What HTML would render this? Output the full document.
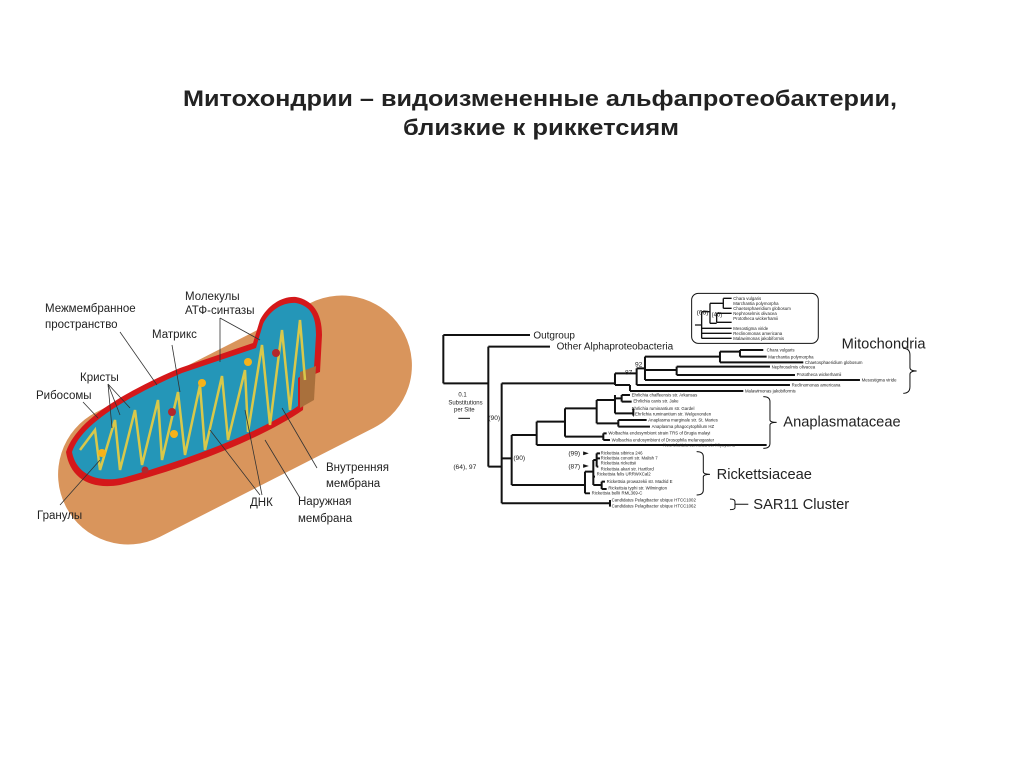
<!DOCTYPE html>
<html><head><meta charset="utf-8"><style>
html,body{margin:0;padding:0;background:#fff;width:1024px;height:767px;overflow:hidden}
svg{display:block;font-family:"Liberation Sans",Arial,sans-serif}
</style></head><body>
<svg width="1024" height="767" viewBox="0 0 1024 767">
<text x="183" y="106" font-size="22" font-weight="bold" fill="#222" textLength="714" lengthAdjust="spacingAndGlyphs">Митохондрии –  видоизмененные альфапротеобактерии,</text>
<text x="403" y="135" font-size="22" font-weight="bold" fill="#222" textLength="276" lengthAdjust="spacingAndGlyphs">близкие к риккетсиям</text>

<!-- mitochondrion -->
<g transform="rotate(-27 235 420)">
<rect x="45" y="350" width="380" height="140" rx="70" fill="#d9955c"/>
</g>
<path d="M66,452 C75,425 110,398 180,368 L253,343 L260,320 C268,305 282,296 296,297 C312,300 322,312 322,335 L320,372 L305,378 L303,410 C260,440 180,470 120,485 C90,490 70,478 66,452 Z" fill="#d4181a"/>
<path d="M72,452 C80,428 115,402 182,373 L256,348 L263,324 C270,310 283,302 296,303 C310,306 316,315 316,335 L314,368 L298,378 L298,406 C258,434 180,462 122,478 C95,483 76,473 72,452 Z" fill="#2496b8"/>
<path d="M300,372 L316,366 L314,400 L300,408 Z" fill="#a9703c"/>
<g fill="none" stroke="#d8c84a" stroke-width="2.5">
<path d="M80,450 L95,430 L100,470 L115,420 L120,470 L135,410 L142,465 L158,400 L162,460 L178,392 L185,455 L200,385 L205,450 L222,376 L228,440 L245,370 L248,432 L262,345 L270,425 L282,330 L290,410 L300,320 L305,380"/>
</g>
<g fill="#f5b21a"><circle cx="178" cy="491" r="0"/><circle cx="102" cy="453" r="4"/><circle cx="174" cy="434" r="4"/><circle cx="202" cy="383" r="4"/><circle cx="248" cy="362" r="4"/><circle cx="143" cy="393" r="0"/></g>
<g fill="#b3282c"><circle cx="172" cy="412" r="4"/><circle cx="276" cy="353" r="4"/><circle cx="145" cy="470" r="3.5"/></g>

<g font-size="11.5" fill="#222">
<text x="185" y="300">Молекулы</text><text x="185" y="314">АТФ-синтазы</text>
<text x="45" y="312">Межмембранное</text><text x="45" y="328">пространство</text>
<text x="152" y="338">Матрикс</text>
<text x="80" y="381">Кристы</text>
<text x="36" y="399">Рибосомы</text>
<text x="37" y="519">Гранулы</text>
<text x="250" y="506">ДНК</text>
<text x="326" y="471">Внутренняя</text><text x="326" y="487">мембрана</text>
<text x="298" y="505">Наружная</text><text x="298" y="522">мембрана</text>
</g>
<g stroke="#333" stroke-width="0.8" fill="none">
<path d="M120,332 L157,385"/><path d="M172,345 L180,392"/>
<path d="M108,384 L112,428 M108,384 L120,415 M108,384 L130,408"/>
<path d="M83,402 L98,418"/><path d="M60,505 L100,460"/>
<path d="M220,318 L220,362 M220,318 L260,340"/>
<path d="M260,495 L210,430 M262,495 L245,410"/>
<path d="M317,468 L282,408"/><path d="M300,498 L265,440"/>
</g>

<!-- tree -->
<g transform="translate(430,285) scale(0.3333)" stroke="#111" stroke-width="6" fill="none">
<path d="M40,150V295M40,150H300M40,295H175M175,185V545M175,185H360M175,545H215M215,295V655M215,295H555M215,655H540M540,645V665
M555,265V300M555,265H620M555,300H600M600,300V318M600,318H940M620,250V300M620,300H1080M620,250H645M645,215V285M645,285H1290M645,255H740M740,245V270M740,245H1020M740,270H1095M645,215H870M870,200V232M870,232H1120M870,200H930M930,195V215M930,195H1000M930,215H1010
M215,520H245M245,450V600M245,450H320M320,410V480M320,480H1010M320,410H405M405,370V455M405,455H520M520,445V465M520,445H530M520,465H540M405,370H500M500,345V415M500,415H565M565,405V425M565,405H650M565,425H660M500,345H555M555,330V385M555,340H575M575,330V350M575,330H600M575,350H605M555,385H610M610,372V392M610,372H612M610,392H612
M245,600H465M465,560V625M465,625H480M465,560H490M490,525V600M490,600H515M515,590V612M515,590H525M515,612H530M490,525H500M500,505V545M500,505H510M500,520H510M500,545H505M490,575H495"/>
<rect x="785" y="25" width="380" height="150" rx="20" stroke-width="3"/>
<path d="M795,120H815M815,80V160M815,80H840M840,55V115M840,55H880M880,40V70M880,40H905M880,70H905M840,115H860M860,85V112M860,85H905M860,112H905M815,130H905M815,145H905M815,160H905" stroke-width="4"/>
<path d="M85,400H120" stroke-width="3"/>
<g stroke-width="3">
<path d="M1420,190Q1440,190 1440,210V248Q1440,258 1460,258Q1440,258 1440,268V305Q1440,325 1420,325"/>
<path d="M1000,335Q1020,335 1020,350V405Q1020,412 1040,412Q1020,412 1020,420V475Q1020,490 1000,490"/>
<path d="M800,500Q820,500 820,515V560Q820,568 840,568Q820,568 820,576V615Q820,630 800,630"/>
<path d="M900,642Q915,642 915,650V668Q915,674 900,674M915,658H955"/>
</g>
<path d="M460,500L475,505L460,510ZM460,538L475,543L460,548Z" fill="#111" stroke-width="1"/>
</g>
<g transform="translate(430,285) scale(0.3333)" fill="#222" font-size="14">
<text x="310" y="160" font-size="30">Outgroup</text>
<text x="380" y="193" font-size="30">Other Alphaproteobacteria</text>
<text x="1235" y="190" font-size="44">Mitochondria</text>
<text x="1060" y="425" font-size="44">Anaplasmataceae</text>
<text x="860" y="582" font-size="44">Rickettsiaceae</text>
<text x="970" y="672" font-size="44">SAR11 Cluster</text>
<text x="85" y="335" font-size="18">0.1</text><text x="55" y="358" font-size="18">Substitutions</text><text x="72" y="380" font-size="18">per Site</text>
<text x="175" y="405" font-size="20">(90)</text><text x="250" y="525" font-size="20">(90)</text>
<text x="70" y="552" font-size="20">(64), 97</text>
<text x="585" y="268" font-size="20">87</text><text x="615" y="245" font-size="20">92</text>
<text x="415" y="512" font-size="20">(99)</text><text x="415" y="550" font-size="20">(87)</text>
<text x="800" y="88" font-size="20">(66)</text><text x="845" y="95" font-size="18">(40)</text>
<g font-size="13">
<text x="910" y="45">Chara vulgaris</text><text x="910" y="60">Marchantia polymorpha</text><text x="910" y="75">Chaetosphaeridium globosum</text><text x="910" y="90">Nephroselmis olivacea</text><text x="910" y="105">Prototheca wickerhamii</text><text x="910" y="135">Mesostigma viride</text><text x="910" y="150">Reclinomonas americana</text><text x="910" y="165">Malawimonas jakobiformis</text>
<text x="1010" y="200">Chara vulgaris</text><text x="1015" y="220">Marchantia polymorpha</text><text x="1125" y="237">Chaetosphaeridium globosum</text><text x="1025" y="250">Nephroselmis olivacea</text><text x="1100" y="273">Prototheca wickerhamii</text><text x="1295" y="290">Mesostigma viride</text><text x="1085" y="305">Reclinomonas americana</text><text x="945" y="322">Malawimonas jakobiformis</text>
<text x="605" y="334">Ehrlichia chaffeensis str. Arkansas</text><text x="610" y="353">Ehrlichia canis str. Jake</text><text x="605" y="375">Ehrlichia ruminantium str. Gardel</text><text x="615" y="392">Ehrlichia ruminantium str. Welgevonden</text><text x="655" y="410">Anaplasma marginale str. St. Maries</text><text x="665" y="429">Anaplasma phagocytophilum HZ</text><text x="535" y="449">Wolbachia endosymbiont strain TRS of Brugia malayi</text><text x="545" y="469">Wolbachia endosymbiont of Drosophila melanogaster</text><text x="700" y="484">Neorickettsia sennetsu str. Miyayama</text>
<text x="512" y="509">Rickettsia sibirica 246</text><text x="512" y="524">Rickettsia conorii str. Malish 7</text><text x="512" y="538">Rickettsia rickettsii</text><text x="512" y="556">Rickettsia akari str. Hartford</text><text x="500" y="571">Rickettsia felis URRWXCal2</text><text x="530" y="594">Rickettsia prowazekii str. Madrid E</text><text x="535" y="614">Rickettsia typhi str. Wilmington</text><text x="485" y="629">Rickettsia bellii RML369-C</text>
<text x="545" y="650">Candidatus Pelagibacter ubique HTCC1002</text><text x="545" y="668">Candidatus Pelagibacter ubique HTCC1062</text>
</g>
</g>
</svg>
</body></html>
